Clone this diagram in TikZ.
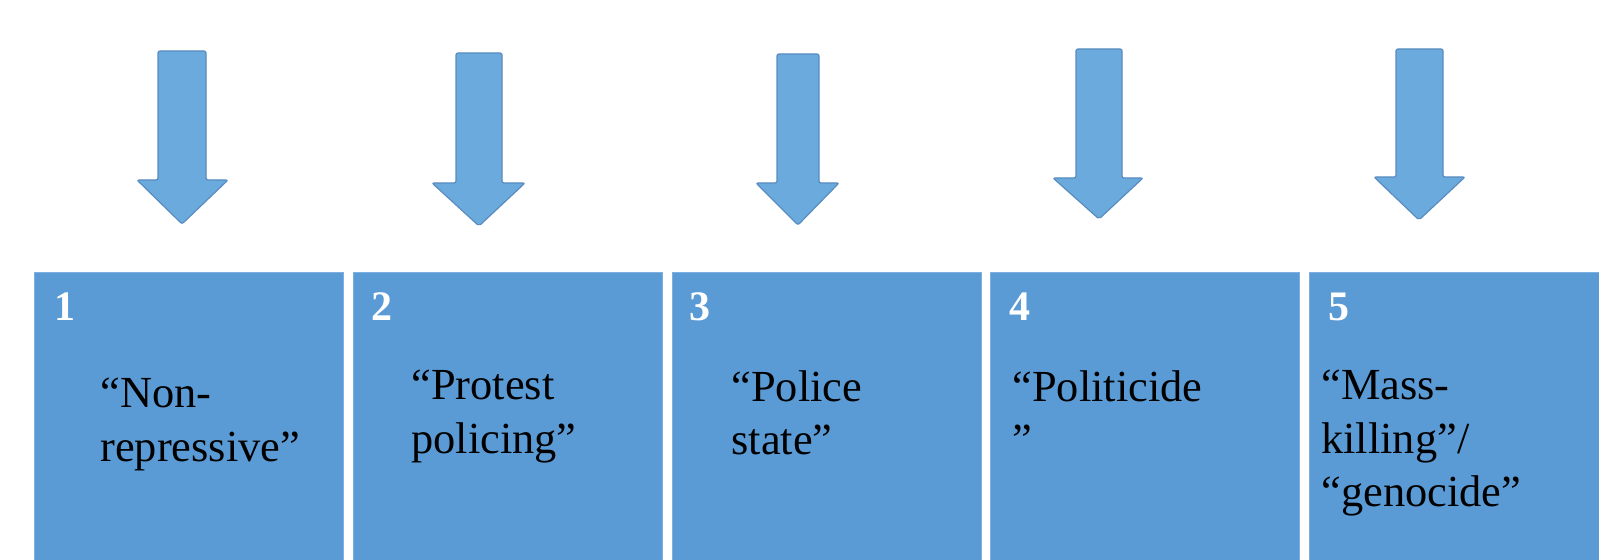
\documentclass[tikz,border=0pt]{standalone}
\usepackage{fontspec}
\setmainfont{Liberation Serif}
\definecolor{boxblue}{HTML}{5B9BD5}
\definecolor{boxedge}{HTML}{7DB0E0}
\definecolor{arrowfill}{HTML}{6AAADC}
\definecolor{arrowedge}{HTML}{5A8CC0}
\tikzset{
  stagebox/.style={fill=boxblue, draw=boxedge, line width=0.4pt, anchor=north west,
    inner sep=0pt, minimum height=144pt, minimum width=154.5pt},
  stagenum/.style={anchor=base west, inner sep=0pt, text=white,
    font=\fontsize{21}{27}\selectfont\bfseries},
  stagetext/.style={anchor=base west, inner sep=0pt, align=left, text=black,
    font=\fontsize{22.2}{26.5}\selectfont},
  downarrow/.style={fill=arrowfill, draw=arrowedge, line width=0.6pt, rounded corners=1pt}
}
\newcommand{\downarr}[8]{% sl sr top hl hr base tip cx
  \draw[downarrow] (#1,#3) -- (#2,#3) -- (#2,#6) -- (#5,#6) -- (#8,#7) -- (#4,#6) -- (#1,#6) -- cycle;}
\begin{document}
\begin{tikzpicture}[x=0.5pt, y=-0.5pt]
\useasboundingbox (0,0) rectangle (1599,560);
\fill[white] (0,0) rectangle (1599,560);

% arrows
\downarr{158}{206}{51}{137}{228}{180}{224}{182}
\downarr{456}{502}{53}{432}{525}{183}{226}{479}
\downarr{777}{819}{54}{756}{839}{183}{225}{798}
\downarr{1076}{1122}{49}{1053}{1143}{178}{219}{1099}
\downarr{1396}{1443}{49}{1374}{1465}{177}{220}{1419}

% boxes
\node[stagebox] (b1) at (34,272) {};
\node[stagebox] (b2) at (353,272) {};
\node[stagebox] (b3) at (672,272) {};
\node[stagebox] (b4) at (990,272) {};
\node[stagebox, minimum width=146pt] (b5) at (1309,272) {};

% numbers
\node[stagenum] (n1) at (54,321) {1};
\node[stagenum] (n2) at (371,321) {2};
\node[stagenum] (n3) at (689,321) {3};
\node[stagenum] (n4) at (1009,321) {4};
\node[stagenum] (n5) at (1328,321) {5};

% labels (anchored at the baseline of the last line)
\node[stagetext] (t1) at (100,461) {“Non-\\repressive”};
\node[stagetext] (t2) at (411,453) {“Protest\\policing”};
\node[stagetext] (t3) at (731,455) {“Police\\state”};
\node[stagetext] (t4) at (1012,455) {“Politicide\\”};
\node[stagetext] (t5) at (1321,506) {“Mass-\\killing”/\\“genocide”};
\end{tikzpicture}
\end{document}
